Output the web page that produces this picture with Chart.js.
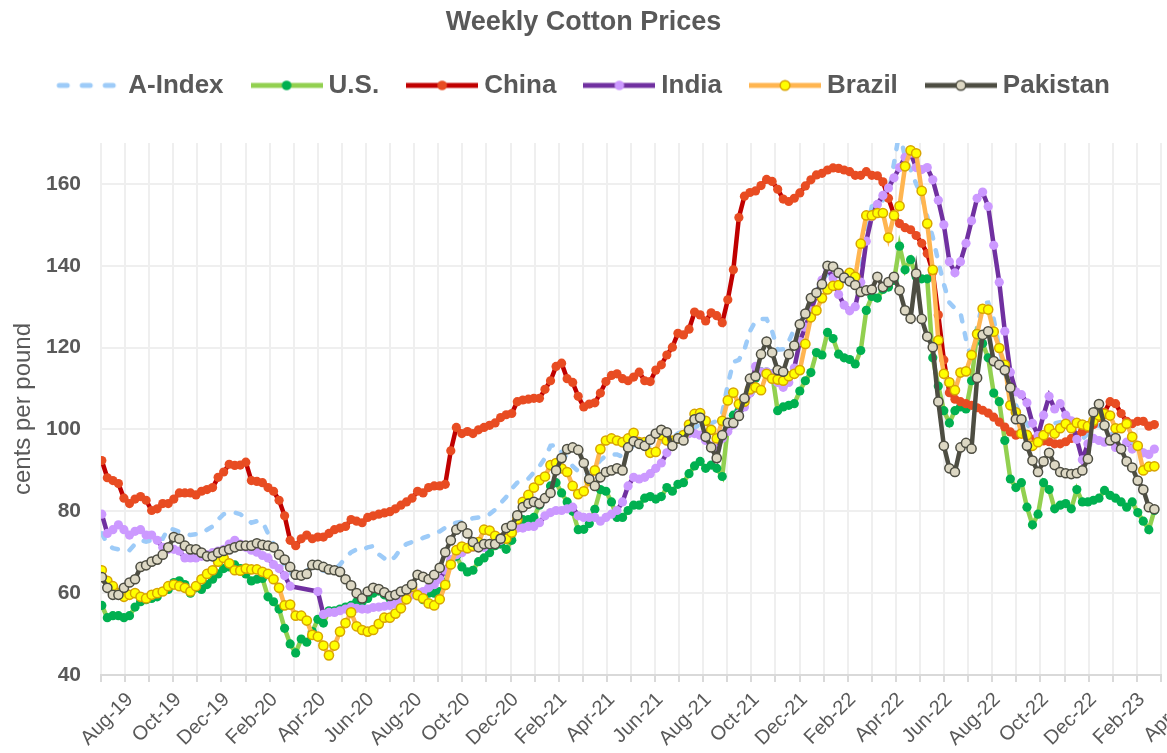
<!DOCTYPE html>
<html>
<head>
<meta charset="utf-8">
<title>Weekly Cotton Prices</title>
<script src="https://cdn.jsdelivr.net/npm/chart.js@4.4.1/dist/chart.umd.min.js"></script>
<style>
  html, body { margin: 0; padding: 0; background: #fff; }
  #wrap { width: 1167px; height: 753px; }
</style>
</head>
<body>
<div id="wrap"><canvas id="chart" width="1167" height="753"></canvas></div>
<script>
// Weekly cotton prices, cents per pound. One value per week, first week 2 Aug 2019.
const firstWeek = new Date(2019, 7, 2);
const axisStart = new Date(2019, 7, 1);
const monthLabels = ['Aug-19', 'Oct-19', 'Dec-19', 'Feb-20', 'Apr-20', 'Jun-20', 'Aug-20', 'Oct-20',
  'Dec-20', 'Feb-21', 'Apr-21', 'Jun-21', 'Aug-21', 'Oct-21', 'Dec-21', 'Feb-22', 'Apr-22',
  'Jun-22', 'Aug-22', 'Oct-22', 'Dec-22', 'Feb-23', 'Apr-23'];
const seriesNames = ['A-Index', 'U.S.', 'China', 'India', 'Brazil', 'Pakistan'];

const aIndex = [
  74.6, 72.0, 71.0, 70.7, 70.3, 70.5, 72.0, 72.9, 72.6, 72.9,
  73.3, 73.3, 75.9, 75.5, 75.0, 74.6, 74.2, 74.4, 74.6, 75.5,
  76.3, 78.0, 79.3, 79.7, 79.7, 79.3, 78.3, 77.2, 77.6, 77.5,
  74.6, 72.0, 70.3, 66.4, 65.0, 63.9, 64.3, 65.5, 66.4, 66.0,
  65.5, 65.2, 65.6, 67.0, 68.6, 70.0, 70.7, 70.5, 71.2, 71.5,
  69.5, 68.5, 67.7, 69.0, 71.0, 72.0, 72.5, 72.9, 73.5, 74.0,
  74.6, 75.1, 76.0, 76.7, 77.2, 77.4, 77.8, 78.3, 78.5, 78.8,
  79.3, 80.4, 82.0, 83.5, 85.5, 87.0, 87.7, 88.0, 89.5, 91.0,
  93.0, 96.0, 96.2, 94.5, 93.0, 91.0, 89.8, 88.8, 89.2, 90.5,
  92.5, 93.6, 93.9, 93.9, 93.3, 94.5, 96.2, 96.9, 96.0, 95.8,
  96.7, 97.0, 97.0, 98.0, 99.0, 99.5, 99.8, 100.5, 101.2, 101.2,
  101.5, 102.1, 104.0, 111.0, 116.5, 117.0, 119.5, 124.0, 126.5, 127.0,
  127.0, 124.0, 119.5, 119.6, 121.5, 124.5, 125.8, 128.5, 130.5, 133.5,
  136.5, 138.0, 138.3, 137.7, 136.0, 135.8, 136.8, 138.0, 148.0, 154.5,
  155.3, 156.0, 157.5, 165.0, 173.0, 166.4, 163.5, 160.0, 157.0, 152.0,
  147.0, 141.0, 135.5, 131.0, 129.6, 128.5, 122.0, 117.0, 125.0, 130.9,
  131.0, 127.0, 120.0, 114.0, 109.3, 106.0, 103.0, 101.5, 98.5, 96.5,
  97.5, 99.5, 101.5, 101.8, 100.8, 100.5, 98.8, 97.6, 99.0, 100.8,
  101.0, 100.0, 99.0, 98.7, 98.0, 97.3, 96.5, 95.8, 94.8, 94.0, 95.0
];

const usPrices = [
  57.0, 54.0, 54.5, 54.5, 54.0, 54.5, 56.6, 57.9, 58.4, 58.7,
  59.1, 60.4, 60.9, 62.6, 63.0, 62.1, 60.0, 61.3, 60.9, 62.1,
  63.4, 64.7, 66.0, 66.4, 66.9, 66.0, 64.7, 63.0, 63.4, 63.6,
  59.1, 57.9, 56.1, 51.4, 47.6, 45.4, 48.8, 48.0, 50.6, 53.6,
  52.7, 55.7, 55.7, 56.1, 56.6, 57.0, 57.9, 57.9, 58.7, 60.0,
  60.5, 59.6, 58.7, 58.7, 58.7, 60.0, 61.3, 59.6, 58.4, 60.0,
  60.0, 60.4, 62.6, 67.7, 69.0, 66.4, 65.2, 65.6, 67.7, 68.6,
  69.9, 71.6, 72.0, 70.7, 72.9, 76.5, 78.0, 78.0, 78.5, 81.5,
  83.2, 86.2, 87.0, 84.5, 82.3, 80.0, 75.5, 75.6, 77.0, 80.5,
  85.3, 84.9, 82.3, 78.5, 78.5, 80.2, 81.5, 81.5, 83.2, 83.6,
  83.0, 83.6, 85.8, 84.9, 86.6, 87.0, 89.2, 91.1, 92.2, 90.5,
  91.3, 90.5, 88.5, 100.5, 103.5, 104.5, 106.5, 109.0, 112.5, 114.1,
  114.0, 113.6, 104.6, 105.5, 105.9, 106.3, 109.4, 111.9, 113.9, 118.8,
  118.2, 123.7, 122.2, 118.4, 117.5, 117.1, 116.0, 119.3, 129.1, 132.5,
  132.1, 134.2, 134.8, 136.4, 144.8, 139.0, 141.5, 137.3, 136.8, 136.8,
  117.5, 110.6, 104.6, 101.6, 104.6, 105.5, 105.0, 111.9, 123.5, 121.0,
  117.5, 108.9, 106.8, 97.3, 87.9, 85.8, 87.0, 81.0, 76.7, 79.3,
  87.0, 85.3, 80.6, 81.5, 81.9, 80.6, 85.3, 82.3, 82.3, 82.7,
  83.2, 85.1, 83.9, 83.2, 82.3, 81.0, 82.3, 79.7, 77.6, 75.5, 80.2
];

const china = [
  92.4, 88.2, 87.5, 86.8, 83.2, 81.9, 83.0, 83.6, 82.7, 80.2,
  80.6, 81.9, 81.9, 83.0, 84.5, 84.5, 84.5, 84.0, 84.9, 85.3,
  85.8, 88.3, 89.6, 91.5, 91.2, 91.3, 92.0, 87.5, 87.3, 87.0,
  85.8, 84.9, 82.7, 78.9, 72.9, 71.6, 73.3, 74.2, 73.3, 73.7,
  73.7, 74.6, 75.5, 75.9, 76.3, 78.0, 77.6, 77.2, 78.5, 78.9,
  79.3, 79.6, 79.9, 80.6, 81.5, 82.3, 83.2, 84.9, 84.5, 85.8,
  86.2, 86.2, 86.6, 94.8, 100.5, 99.0, 99.5, 99.0, 99.9, 100.5,
  101.0, 101.6, 102.9, 103.6, 103.9, 106.8, 107.2, 107.4, 107.6, 107.6,
  109.8, 111.9, 115.4, 116.2, 112.4, 111.5, 108.1, 105.5, 106.2, 106.5,
  108.9, 111.7, 113.2, 113.6, 112.4, 111.9, 112.8, 114.0, 111.9, 111.7,
  114.5, 115.8, 118.2, 120.1, 123.5, 123.1, 124.5, 128.7, 128.0, 126.5,
  128.5, 127.8, 126.1, 131.7, 139.0, 151.8, 157.0, 157.9, 158.3, 159.6,
  161.1, 160.6, 158.7, 156.3, 155.7, 156.5, 157.8, 159.5, 161.0, 162.2,
  162.6, 163.4, 163.9, 163.8, 163.4, 163.0, 162.1, 162.1, 163.0, 162.1,
  162.0, 160.5, 156.5, 152.5, 150.3, 149.3, 148.8, 147.4, 145.5, 143.0,
  138.5, 128.0, 117.0, 109.0, 107.4, 106.8, 106.3, 105.9, 105.3, 104.7,
  104.0, 103.0, 101.8, 100.6, 99.4, 98.6, 99.2, 98.8, 97.6, 97.0,
  97.2, 97.0, 96.5, 96.5, 97.0, 97.8, 98.5, 99.5, 100.3, 101.2,
  102.9, 104.2, 106.8, 106.3, 103.9, 102.0, 101.4, 102.0, 102.0, 100.8, 101.2
];

// India has no quotes for a few weeks in spring 2020
const india = [
  79.3, 74.6, 75.5, 76.7, 75.5, 74.2, 75.1, 75.5, 74.2, 74.2,
  72.9, 71.2, 70.7, 70.7, 70.3, 68.6, 68.6, 68.6, 69.0, 69.4,
  69.9, 70.3, 70.7, 72.0, 72.9, 72.0, 71.2, 70.5, 70.0, 69.2,
  68.6, 67.0, 66.0, 64.3, 61.7, null, null, null, null, 60.4,
  54.8, 55.3, 55.3, 55.7, 56.1, 56.6, 56.3, 56.1, 56.1, 56.5,
  56.6, 56.8, 57.0, 57.4, 58.4, 59.1, 59.6, 60.0, 60.4, 61.3,
  62.1, 63.4, 65.6, 68.2, 69.4, 69.9, 70.7, 71.2, 71.2, 71.2,
  72.0, 72.9, 72.9, 73.7, 75.0, 75.9, 75.9, 76.3, 76.3, 77.2,
  78.9, 79.7, 80.2, 80.2, 80.6, 81.0, 78.9, 78.5, 78.5, 78.5,
  77.6, 78.5, 79.3, 80.2, 82.3, 86.2, 88.3, 87.9, 88.3, 89.2,
  90.5, 91.8, 94.3, 96.0, 97.8, 98.6, 99.0, 99.0, 98.6, 97.3,
  96.0, 95.2, 97.8, 99.5, 101.2, 103.8, 105.5, 108.9, 115.4, 114.1,
  114.1, 113.6, 111.5, 110.3, 111.5, 115.0, 121.5, 125.0, 129.0, 133.0,
  136.5, 139.4, 137.0, 133.0, 130.4, 129.0, 130.0, 136.0, 146.0, 152.0,
  155.0, 157.2, 159.0, 161.5, 164.0, 166.5, 167.5, 164.0, 163.5, 164.0,
  161.0, 156.0, 150.0, 141.0, 138.3, 141.0, 145.5, 151.0, 156.5, 158.0,
  154.5, 145.0, 136.0, 124.0, 114.0, 109.2, 108.5, 106.5, 101.5, 98.5,
  103.5, 108.1, 105.0, 106.3, 103.5, 102.1, 97.6, 92.6, 96.5, 97.8,
  97.3, 96.9, 97.8, 95.6, 95.2, 96.9, 95.2, 96.0, 94.3, 93.9, 95.2
];

const brazil = [
  65.6, 63.0, 61.7, 60.0, 59.1, 59.6, 60.0, 59.1, 58.7, 59.6,
  60.0, 60.4, 61.7, 62.1, 61.7, 61.3, 60.4, 61.7, 63.4, 64.7,
  65.6, 67.7, 68.6, 67.3, 65.6, 65.5, 66.0, 65.8, 65.8, 65.2,
  64.7, 63.4, 61.3, 57.0, 57.2, 54.5, 54.5, 53.3, 49.8, 49.4,
  47.2, 44.8, 47.2, 50.6, 52.7, 55.3, 51.9, 51.0, 50.6, 51.0,
  52.5, 54.0, 54.0, 55.0, 56.3, 58.5, 61.5, 59.5, 58.7, 57.5,
  57.0, 58.5, 62.0, 67.0, 70.5, 71.4, 71.0, 71.5, 72.5, 75.5,
  75.3, 74.0, 73.4, 73.3, 74.8, 78.0, 82.3, 84.0, 85.8, 87.6,
  88.5, 91.3, 91.8, 90.5, 89.6, 86.2, 84.2, 84.9, 87.5, 90.0,
  95.2, 97.3, 97.8, 97.3, 96.9, 97.8, 99.2, 96.9, 96.9, 94.3,
  94.5, 98.6, 97.3, 97.3, 97.8, 98.6, 101.2, 103.8, 104.0, 102.1,
  99.9, 97.8, 102.1, 107.1, 109.0, 106.2, 106.8, 109.8, 110.3, 109.6,
  113.6, 112.4, 112.2, 111.9, 113.0, 113.6, 114.5, 120.9, 127.4, 129.1,
  132.1, 134.2, 135.1, 135.3, 137.3, 138.3, 137.3, 145.4, 152.3, 152.3,
  152.9, 152.9, 146.9, 152.3, 154.6, 164.3, 168.2, 167.5, 158.3, 150.3,
  139.0, 121.8, 113.6, 111.5, 109.6, 113.9, 114.2, 118.2, 123.3, 129.5,
  129.3, 123.9, 119.9, 115.8, 105.9, 104.2, 99.0, 98.6, 96.0, 96.9,
  98.6, 100.2, 99.0, 100.3, 101.4, 100.3, 101.6, 101.2, 100.8, 102.1,
  103.4, 103.8, 103.4, 100.3, 100.3, 101.4, 98.2, 96.0, 90.0, 90.9, 91.0
];

const pakistan = [
  63.9, 61.3, 59.6, 59.6, 61.3, 62.6, 63.4, 66.4, 66.8, 67.7,
  68.2, 69.4, 71.2, 73.7, 73.3, 71.6, 70.7, 70.7, 69.9, 69.0,
  69.0, 69.9, 70.3, 70.7, 71.2, 71.6, 71.6, 71.6, 72.2, 71.8,
  71.6, 71.2, 69.4, 68.2, 66.4, 64.5, 64.3, 64.7, 66.9, 66.9,
  66.4, 65.8, 65.6, 65.2, 63.4, 61.9, 60.0, 58.7, 60.4, 61.3,
  61.0, 60.2, 59.3, 59.6, 60.4, 60.9, 62.1, 64.5, 64.0, 63.4,
  64.5, 66.2, 70.0, 72.9, 75.5, 76.3, 74.6, 72.5, 71.2, 72.0,
  72.0, 72.0, 73.3, 75.9, 76.5, 79.0, 81.0, 81.9, 82.3, 81.9,
  83.2, 84.5, 90.0, 93.0, 95.2, 95.6, 95.0, 91.8, 87.9, 86.2,
  88.3, 89.6, 90.0, 90.5, 90.0, 95.6, 97.1, 96.5, 96.0, 97.5,
  99.0, 99.9, 99.3, 96.0, 97.8, 97.3, 99.9, 102.5, 102.9, 98.2,
  95.6, 93.0, 98.6, 101.6, 101.6, 103.3, 107.6, 112.4, 113.0, 118.4,
  121.5, 118.8, 114.5, 114.1, 118.4, 120.5, 125.7, 128.3, 132.1, 133.4,
  135.5, 140.0, 139.8, 138.3, 137.1, 136.2, 135.3, 133.6, 134.0, 134.2,
  137.3, 134.8, 136.0, 137.3, 134.0, 129.1, 127.1, 138.1, 127.0, 122.7,
  120.1, 106.8, 96.0, 90.5, 89.6, 95.6, 96.7, 95.3, 112.6, 123.1,
  124.0, 116.7, 115.8, 114.5, 110.2, 102.5, 102.5, 96.0, 92.4, 89.6,
  92.2, 94.3, 91.3, 89.6, 89.3, 89.1, 89.3, 90.0, 92.8, 104.2,
  106.2, 101.0, 97.3, 97.9, 95.2, 92.2, 90.7, 87.5, 85.3, 81.0, 80.5
];

const FONT = "'Liberation Sans', Arial, sans-serif";
const colors = {
  text: '#595959',
  grid: '#EFEFEF',
  axis: '#D9D9D9'
};

// line colour, marker fill, marker border
const styles = [
  { line: '#9DCBF8', dash: true },
  { line: '#92D050', marker: '#00B050' },
  { line: '#C00000', marker: '#E84C22' },
  { line: '#7030A0', marker: '#CC99FF' },
  { line: '#FFB550', marker: '#FFFF00', border: '#D8A400' },
  { line: '#4D4D42', marker: '#DDD8C4', border: '#4D4D42' }
];

// x position = months since start of Aug 2019
function weekToMonths(i) {
  const d = new Date(firstWeek.getTime());
  d.setDate(d.getDate() + 7 * i);
  return (d - axisStart) / (86400000 * 30.4375);
}

function toPoints(values) {
  return values.map((v, i) => ({ x: weekToMonths(i), y: v }));
}

// small line + marker picture used as the legend symbol
function legendSample(s) {
  const c = document.createElement('canvas');
  c.width = 72;
  c.height = 14;
  const g = c.getContext('2d');
  g.strokeStyle = s.line;
  g.lineWidth = 5;
  if (s.dash) {
    g.lineCap = 'round';
    [[9, 17], [32, 40], [55, 63]].forEach(([a, b]) => {
      g.beginPath(); g.moveTo(a, 7); g.lineTo(b, 7); g.stroke();
    });
  } else {
    g.beginPath(); g.moveTo(0, 7); g.lineTo(72, 7); g.stroke();
    g.beginPath(); g.arc(36, 7, 4.8, 0, Math.PI * 2);
    g.fillStyle = s.marker; g.fill();
    if (s.border) { g.lineWidth = 1.5; g.strokeStyle = s.border; g.stroke(); }
  }
  return c;
}

const allValues = [aIndex, usPrices, china, india, brazil, pakistan];
const samples = styles.map(legendSample);

const datasets = allValues.map((vals, k) => {
  const s = styles[k];
  return {
    label: seriesNames[k],
    data: toPoints(vals),
    borderColor: s.line,
    backgroundColor: s.marker || s.line,
    borderWidth: 4.5,
    borderDash: s.dash ? [6, 12] : [],
    borderCapStyle: s.dash ? 'round' : 'butt',
    pointRadius: s.dash ? 0 : 4.6,
    pointHoverRadius: s.dash ? 0 : 4.6,
    pointBackgroundColor: s.marker,
    pointBorderColor: s.border || s.marker,
    pointBorderWidth: s.border ? 1.5 : 0,
    tension: 0,
    spanGaps: true,
    order: 6 - k   // Pakistan drawn on top, A-Index underneath
  };
});

new Chart(document.getElementById('chart').getContext('2d'), {
  type: 'line',
  data: { datasets },
  options: {
    responsive: false,
    animation: false,
    devicePixelRatio: 1,
    layout: { padding: 0 },
    plugins: {
      title: {
        display: true,
        text: 'Weekly Cotton Prices',
        color: colors.text,
        font: { family: FONT, size: 27, weight: 'bold' },
        padding: { top: 6, bottom: 0 }
      },
      // empty subtitle used as a spacer between the legend and the plot
      subtitle: {
        display: true,
        text: '',
        font: { size: 10 },
        padding: { top: 22.6, bottom: 0 },
        weight: 1500
      },
      legend: {
        display: true,
        position: 'top',
        weight: 1800,
        labels: {
          usePointStyle: true,
          pointStyleWidth: 58,
          padding: 34,
          color: colors.text,
          font: { family: FONT, size: 26, weight: 'bold' },
          generateLabels(chart) {
            return Chart.defaults.plugins.legend.labels.generateLabels(chart).map(item => {
              item.pointStyle = samples[item.datasetIndex];
              return item;
            });
          },
          sort: (a, b) => a.datasetIndex - b.datasetIndex
        }
      },
      tooltip: { enabled: false }
    },
    scales: {
      x: {
        type: 'linear',
        min: 0,
        max: 44,
        grid: { color: colors.grid, lineWidth: 2, tickColor: colors.axis, tickLength: 7, tickWidth: 2 },
        border: { color: colors.axis, width: 2 },
        ticks: {
          stepSize: 1,
          maxTicksLimit: 60,
          autoSkip: false,
          maxRotation: 45,
          minRotation: 45,
          labelOffset: 29,
          padding: 6,
          color: colors.text,
          font: { family: FONT, size: 20 },
          callback: v => (v % 2 === 0 ? monthLabels[v / 2] : '')
        },
        afterFit(s) {
          s.height = 78;
          s.paddingLeft = 0;
          s.paddingRight = 0;
        }
      },
      y: {
        min: 40,
        max: 170,
        grid: { color: colors.grid, lineWidth: 2, drawTicks: false },
        border: { display: false },
        ticks: {
          stepSize: 20,
          padding: 20,
          color: colors.text,
          font: { family: FONT, size: 21, weight: 'bold' }
        },
        title: {
          display: true,
          text: 'cents per pound',
          color: colors.text,
          font: { family: FONT, size: 24 },
          padding: { top: 9, bottom: 0 }
        },
        afterBuildTicks(s) {
          s.ticks = s.ticks.filter(t => t.value !== 170);
        },
        afterFit(s) {
          s.width = 101;
          s.paddingTop = 0;
          s.paddingBottom = 0;
        }
      }
    }
  }
});
</script>
</body>
</html>
